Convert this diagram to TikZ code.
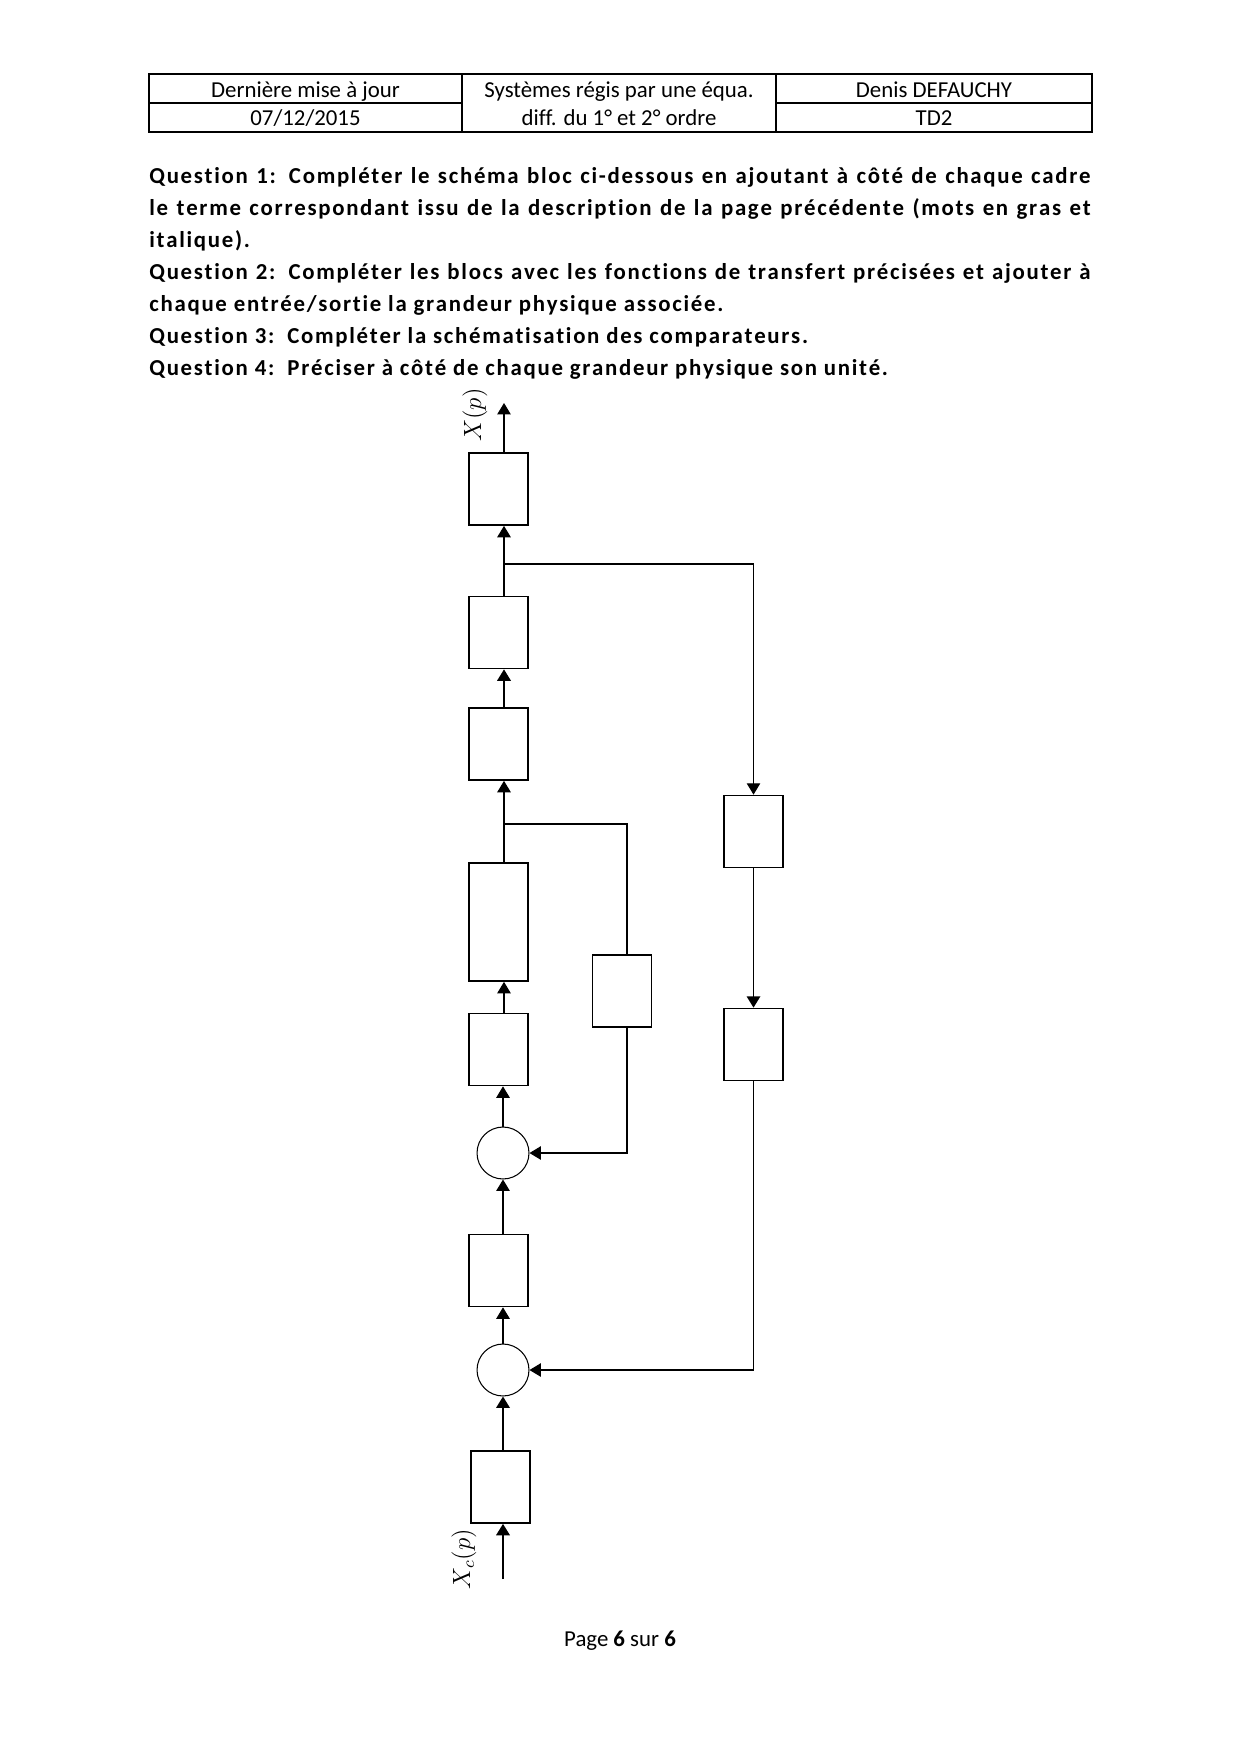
\documentclass[tikz,border=0pt]{standalone}
\usepackage{fontspec}
\setmainfont[Ligatures=NoCommon]{Carlito}
\usetikzlibrary{arrows.meta}
\setlength\parindent{0pt}
% espacement des lettres des questions
\makeatletter
\newdimen\qlsk \qlsk=0.82pt
\def\qls#1{\leavevmode\qls@line#1 \qls@end}
\def\qls@line#1 #2\qls@end{\qls@word#1\qls@nil\ifx\relax#2\relax\else\space\qls@line#2\qls@end\fi}
\def\qls@word#1{\ifx#1\qls@nil\else#1\kern\qlsk\expandafter\qls@word\fi}
\makeatother

\begin{document}
\begin{tikzpicture}[
  x=0.016935cm, y=-0.016935cm,
  bloc/.style={rectangle, draw=black, line width=0.8pt, minimum width=1cm, minimum height=1.22cm, inner sep=0pt},
  blocl/.style={bloc, minimum height=2cm},
  comp/.style={circle, draw=black, line width=0.5pt, minimum size=0.88cm, inner sep=0pt},
  fleche/.style={draw=black, line width=0.5pt, -{Triangle[length=5.5pt,width=6.5pt]}},
  flechep/.style={fleche, line width=0.9pt},
  lien/.style={draw=black, line width=0.5pt},
  cell/.style={font=\fontsize{11}{13}\selectfont, inner sep=0pt, anchor=base},
  slabel/.style={rotate=90, font=\large, inner sep=0pt}
]
  \useasboundingbox (0,0) rectangle (1240,1754);

  % --- CARTOUCHE ---
  \draw[line width=0.5pt] (149,74) rectangle (1092,132);
  \draw[line width=0.5pt] (462,74) -- (462,132) (776,74) -- (776,132);
  \draw[line width=0.5pt] (149,103) -- (462,103) (776,103) -- (1092,103);
  \node[cell] (maj)    at (305.5,97)  {Dernière mise à jour};
  \node[cell] (date)   at (305.5,125) {07/12/2015};
  \node[cell] (titre1) at (619,97)    {Systèmes régis par une équa.};
  \node[cell] (titre2) at (619,125)   {diff. du 1° et 2° ordre};
  \node[cell] (auteur) at (934,97)    {Denis DEFAUCHY};
  \node[cell] (td)     at (934,125)   {TD2};

  % --- QUESTIONS ---
  \node[anchor=north west, text width=15.97cm, align=justify, inner sep=0pt,
        font=\bfseries\fontsize{11}{15.4}\selectfont] (questions) at (149,167) {%
    \qls{Question 1:}\hspace{0.5em}\qls{Compléter le schéma bloc ci-dessous en ajoutant à côté de chaque cadre}\linebreak
    \qls{le terme correspondant issu de la description de la page précédente (mots en gras et}\linebreak
    \qls{italique).}\par
    \qls{Question 2:}\hspace{0.5em}\qls{Compléter les blocs avec les fonctions de transfert précisées et ajouter à}\linebreak
    \qls{chaque entrée/sortie la grandeur physique associée.}\par
    \qls{Question 3:}\hspace{0.5em}\qls{Compléter la schématisation des comparateurs.}\par
    \qls{Question 4:}\hspace{0.5em}\qls{Préciser à côté de chaque grandeur physique son unité.}};

  % --- CHAINE DIRECTE ---
  \node[bloc]  (b1) at (498.5,489) {};
  \node[bloc]  (b2) at (498.5,632.5) {};
  \node[bloc]  (b3) at (498.5,744) {};
  \node[blocl] (b4) at (498.5,922) {};
  \node[bloc]  (b5) at (498.5,1049.5) {};
  \node[comp]  (c1) at (503,1153) {};
  \node[bloc]  (b6) at (498.5,1270.5) {};
  \node[comp]  (c2) at (503,1370) {};
  \node[bloc]  (b7) at (500.5,1487) {};
  \coordinate (xc) at (503,1579);
  \coordinate (xs) at (504,403);
  \coordinate (n1) at (504,564);
  \coordinate (n2) at (504,824);

  \draw[flechep] (xc) -- (b7.south -| xc);
  \draw[flechep] (b7.north -| c2) -- (c2);
  \draw[fleche] (c2) -- (b6.south -| c2);
  \draw[fleche] (b6.north -| c1) -- (c1);
  \draw[fleche] (c1) -- (b5.south -| c1);
  \draw[fleche] (b5.north -| xs) -- (b4.south -| xs);
  \draw[fleche] (b4.north -| xs) -- (b3.south -| xs);
  \draw[flechep] (b3.north -| xs) -- (b2.south -| xs);
  \draw[fleche] (b2.north -| xs) -- (b1.south -| xs);
  \draw[fleche] (b1.north -| xs) -- (xs);

  % --- BOUCLES ---
  \node[bloc] (f1) at (622,991) {};
  \node[bloc] (r1) at (753.5,831.5) {};
  \node[bloc] (r2) at (753.5,1044.5) {};

  \draw[lien] (n2) -| ([xshift=2.4pt]f1.north);
  \draw[fleche] ([xshift=2.4pt]f1.south) |- (c1);
  \draw[fleche] (n1) -| (r1);
  \draw[flechep] (r1) -- (r2);
  \draw[fleche] (r2) |- (c2);

  % --- GRANDEURS ---
  \node[slabel] (lxs) at (475,415) {$X(p)$};
  \node[slabel] (lxc) at (464,1559) {$X_c(p)$};

  % --- PIED DE PAGE ---
  \node[cell] (page) at (620,1646) {Page \textbf{6} sur \textbf{6}};
\end{tikzpicture}
\end{document}
